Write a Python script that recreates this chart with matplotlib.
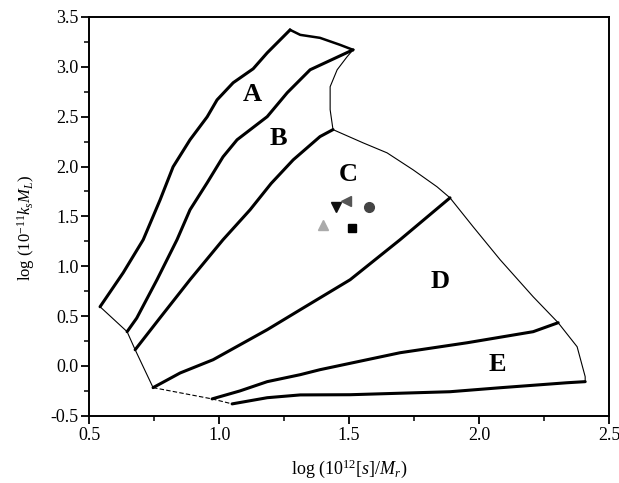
import numpy as np
import matplotlib
matplotlib.use('Agg')
import matplotlib.pyplot as plt
from matplotlib.ticker import MultipleLocator, FormatStrFormatter

plt.rcParams['font.family'] = 'Liberation Serif'
plt.rcParams['mathtext.fontset'] = 'custom'
plt.rcParams['mathtext.rm'] = 'Liberation Serif'
plt.rcParams['mathtext.it'] = 'Liberation Serif:italic'

### thick zone boundaries
c1_x = [0.542, 0.631, 0.708, 0.773, 0.823, 0.888, 0.954, 0.992, 1.054, 1.131, 1.185, 1.273]
c1_y = [0.594, 0.935, 1.266, 1.666, 1.997, 2.268, 2.498, 2.668, 2.84, 2.98, 3.14, 3.37]
top_x = [1.273, 1.312, 1.388, 1.465, 1.515]
top_y = [3.37, 3.32, 3.29, 3.22, 3.17]
c2_x = [0.646, 0.683, 0.761, 0.838, 0.888, 0.954, 1.015, 1.069, 1.119, 1.185, 1.262, 1.35, 1.515]
c2_y = [0.344, 0.48, 0.865, 1.266, 1.566, 1.837, 2.097, 2.268, 2.368, 2.50, 2.74, 2.97, 3.17]
c3_x = [0.677, 0.773, 0.888, 1.015, 1.119, 1.20, 1.285, 1.388, 1.438]
c3_y = [0.163, 0.484, 0.865, 1.266, 1.566, 1.83, 2.067, 2.30, 2.37]
c4_x = [0.746, 0.85, 0.977, 1.185, 1.312, 1.504, 1.696, 1.888]
c4_y = [-0.217, -0.07, 0.063, 0.364, 0.564, 0.865, 1.266, 1.686]
c5_x = [0.973, 1.08, 1.185, 1.312, 1.388, 1.696, 1.954, 2.208, 2.304]
c5_y = [-0.33, -0.25, -0.157, -0.087, -0.037, 0.133, 0.233, 0.344, 0.434]
c6_x = [1.05, 1.185, 1.312, 1.504, 1.888, 2.081, 2.338, 2.408]
c6_y = [-0.38, -0.318, -0.29, -0.288, -0.258, -0.218, -0.168, -0.157]

### thin outer boundary
left_x = [0.542, 0.646, 0.677, 0.746]
left_y = [0.594, 0.344, 0.163, -0.217]
dash_x = [0.746, 0.973, 1.05]
dash_y = [-0.217, -0.33, -0.38]
neck_x = [1.438, 1.427, 1.427, 1.454, 1.492, 1.515]
neck_y = [2.37, 2.57, 2.80, 2.97, 3.10, 3.17]
arc_x = [1.438, 1.554, 1.646, 1.746, 1.838, 1.888, 1.977, 2.081, 2.208, 2.304, 2.377, 2.408, 2.408]
arc_y = [2.37, 2.237, 2.137, 1.967, 1.797, 1.686, 1.396, 1.065, 0.694, 0.434, 0.193, -0.107, -0.157]

### zone labels
zones = ['A', 'B', 'C', 'D', 'E']
zone_x = [1.127, 1.227, 1.496, 1.85, 2.069]
zone_y = [2.72, 2.28, 1.917, 0.845, 0.013]

### data points
pt_x = [1.45, 1.488, 1.577, 1.40, 1.512]
pt_y = [1.596, 1.656, 1.596, 1.416, 1.386]
pt_m = ['v', '<', 'o', '^', 's']
pt_c = ['#111111', '#555555', '#444444', '#aaaaaa', '#000000']
pt_s = [7, 7, 7, 7, 5.5]

fig = plt.figure(figsize=(6.19, 4.83), dpi=100)
ax = fig.add_axes([0.144, 0.139, 0.840, 0.826])

for xs, ys in [(c1_x, c1_y), (c2_x, c2_y), (c3_x, c3_y), (c4_x, c4_y), (c5_x, c5_y), (c6_x, c6_y)]:
    ax.plot(xs, ys, color='black', lw=2.2, solid_capstyle='round', solid_joinstyle='round')
ax.plot(top_x, top_y, color='black', lw=1.8)
ax.plot(left_x, left_y, color='black', lw=0.8)
ax.plot(dash_x, dash_y, color='black', lw=0.8, ls=(0, (4, 2)))
ax.plot(neck_x, neck_y, color='black', lw=0.8)
ax.plot(arc_x, arc_y, color='black', lw=0.8)

for t, x, y in zip(zones, zone_x, zone_y):
    ax.text(x, y, t, fontsize=19, fontweight='bold', ha='center', va='center')

for x, y, m, c, s in zip(pt_x, pt_y, pt_m, pt_c, pt_s):
    ax.plot([x], [y], marker=m, color=c, ms=s, ls='none')

ax.set_xlim(0.5, 2.5)
ax.set_ylim(-0.5, 3.5)
ax.xaxis.set_major_locator(MultipleLocator(0.5))
ax.xaxis.set_minor_locator(MultipleLocator(0.25))
ax.yaxis.set_major_locator(MultipleLocator(0.5))
ax.yaxis.set_minor_locator(MultipleLocator(0.25))
ax.xaxis.set_major_formatter(FormatStrFormatter('%.1f'))
ax.yaxis.set_major_formatter(FormatStrFormatter('%.1f'))
ax.tick_params(axis='both', which='major', direction='out', length=6, width=1.3, labelsize=13, top=False, right=False)
ax.tick_params(axis='x', which='major', pad=2)
ax.tick_params(axis='y', which='major', pad=1.5)
ax.tick_params(axis='both', which='minor', direction='out', length=3.5, width=1.1, top=False, right=False)
for s in ax.spines.values():
    s.set_linewidth(1.4)

ax.set_xlabel(r'log (10$^{12}$$[s]/M_{r}$)', fontsize=13)
ax.set_ylabel(r'log (10$^{-11}$$k_{s}M_{L}$)', fontsize=12)
ax.xaxis.set_label_coords(0.5, -0.105)
ax.yaxis.set_label_coords(-0.1, 0.471)

fig.savefig('out.png', dpi=100)
